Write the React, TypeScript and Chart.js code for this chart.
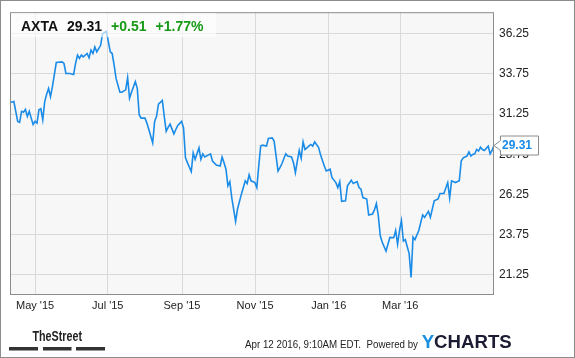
import { useEffect, useRef } from "react";
import { Chart, registerables } from "chart.js";

Chart.register(...registerables);

// ---- data ----
const symbol = "AXTA";
const lastPriceText = "29.31";
const changeText = "+0.51";
const changePctText = "+1.77%";
const timestampText = "Apr 12 2016, 9:10AM EDT.  Powered by";
const brandLeft = "TheStreet";

// trading-day index since mid-April 2015
const days = [
  0, 2, 4, 5, 6, 7, 8, 9, 10, 11, 12, 13, 14, 15, 16, 17, 18, 19, 20, 21, 22, 24, 27, 28, 29, 31, 33, 34, 35, 36,
  37, 38, 40, 41, 42, 43, 44, 45, 47, 48, 50, 52, 53, 54, 55, 57, 58, 60, 61, 62, 63, 65, 66, 67, 68, 70, 71, 72,
  74, 75, 76, 77, 79, 80, 81, 82, 83, 85, 86, 87, 89, 90, 91, 92, 94, 95, 96, 98, 99, 100, 101, 104, 105, 107,
  109, 110, 111, 112, 113, 114, 115, 117, 118, 120, 122, 123, 124, 125, 127, 128, 129, 130, 131, 133, 134, 136,
  137, 139, 140, 141, 143, 144, 146, 147, 148, 149, 150, 151, 152, 153, 155, 156, 157, 158, 160, 161, 163, 164,
  166, 167, 169, 170, 171, 172, 174, 175, 177, 178, 180, 181, 182, 183, 185, 186, 188, 189, 190, 191, 192, 193,
  195, 196, 197, 199, 200, 201, 202, 203, 204, 205, 207, 208, 209, 210, 212, 214, 215, 217, 218, 220, 222, 223,
  225, 227, 228, 229, 231, 233, 234, 235, 237, 238, 239, 240, 241, 242, 243, 244, 245, 246, 248, 249, 250, 251,
];

const prices = [
  31.97, 32.03, 30.8, 30.74, 31.42, 31.37, 31.54, 31.11, 31.42, 31.0, 30.6, 30.8, 30.69, 31.52, 31.58, 30.9, 32.03,
  32.48, 32.85, 32.34, 32.96, 34.46, 34.5, 34.4, 33.78, 33.78, 33.72, 34.4, 34.92, 34.71, 34.92, 34.81, 35.02,
  34.75, 35.23, 35.02, 35.43, 35.12, 35.53, 36.25, 36.4, 35.12, 35.02, 34.3, 33.47, 32.61, 32.61, 32.76, 33.52,
  32.24, 32.61, 33.27, 32.85, 31.21, 31.0, 31.0, 30.69, 30.29, 29.46, 30.8, 31.11, 31.87, 32.1, 31.11, 30.18,
  30.43, 30.63, 30.02, 30.29, 30.55, 30.8, 30.39, 28.53, 28.23, 27.67, 28.84, 28.44, 29.15, 28.44, 28.78, 28.58,
  28.78, 28.33, 28.08, 28.02, 28.58, 28.23, 27.82, 26.79, 27.05, 26.06, 24.58, 25.35, 26.27, 27.1, 26.93, 27.47,
  27.1, 26.99, 26.68, 28.02, 29.26, 29.32, 29.26, 29.73, 29.77, 29.56, 27.71, 27.92, 28.16, 28.78, 28.64, 28.58,
  28.23, 27.61, 28.33, 28.99, 28.5, 29.52, 29.05, 29.26, 29.36, 29.26, 29.52, 29.19, 28.74, 28.02, 27.71, 27.82,
  27.3, 26.99, 26.68, 27.05, 25.82, 25.86, 26.79, 27.14, 26.93, 27.05, 26.68, 26.58, 26.06, 25.97, 24.98, 25.04,
  25.29, 25.69, 24.94, 23.7, 23.29, 22.73, 23.15, 23.58, 23.56, 24.01, 23.15, 24.01, 24.63, 23.35, 23.44, 22.57,
  21.09, 23.6, 23.44, 24.01, 24.98, 24.83, 25.2, 24.83, 25.86, 25.97, 26.31, 26.31, 26.99, 26.03, 27.1, 26.99,
  27.1, 28.33, 28.53, 28.64, 28.9, 28.64, 28.74, 28.78, 29.05, 28.95, 29.19, 29.05, 28.99, 29.26, 28.78, 28.99,
  29.31,
];

const xTickDays = [13, 50.7, 89.2, 127.1, 165.3, 202.4];
const xTickLabels = ["May '15", "Jul '15", "Sep '15", "Nov '15", "Jan '16", "Mar '16"];
const yTickValues = [21.25, 23.75, 26.25, 28.75, 31.25, 33.75, 36.25];

const FONT = '"Liberation Sans", Arial, sans-serif';
const LINE_COLOR = "#1a8ce8";

function fitText(ctx: CanvasRenderingContext2D, text: string, x: number, y: number, width: number) {
  const w = ctx.measureText(text).width;
  ctx.save();
  ctx.translate(x, y);
  ctx.scale(width / w, 1);
  ctx.fillText(text, 0, 0);
  ctx.restore();
}

const decorPlugin = {
  id: "decor",
  beforeDraw(chart: any) {
    const { ctx, chartArea: a } = chart;
    ctx.save();
    ctx.fillStyle = "#ffffff";
    ctx.fillRect(0, 0, chart.width, chart.height);
    ctx.fillStyle = "#f7f7f7";
    ctx.fillRect(a.left, a.top, a.right - a.left, a.bottom - a.top);
    ctx.restore();
  },
  afterDraw(chart: any) {
    const { ctx, chartArea: a } = chart;
    const yScale = chart.scales.y;
    ctx.save();

    // plot border
    ctx.strokeStyle = "#8c8c8c";
    ctx.lineWidth = 1;
    ctx.strokeRect(a.left + 0.5, a.top + 0.5, a.right - a.left - 1, a.bottom - a.top);

    // header box
    ctx.fillStyle = "rgba(255,255,255,0.62)";
    ctx.fillRect(a.left + 1, a.top + 1, 205, 24);
    ctx.font = `bold 14px ${FONT}`;
    ctx.textBaseline = "alphabetic";
    ctx.textAlign = "left";
    let x = a.left + 11;
    const by = a.top + 18.5;
    const gap = 9;
    ctx.fillStyle = "#111111";
    ctx.fillText(symbol, x, by);
    x += ctx.measureText(symbol).width + gap;
    ctx.fillText(lastPriceText, x, by);
    x += ctx.measureText(lastPriceText).width + gap;
    ctx.fillStyle = "#179a17";
    ctx.fillText(changeText, x, by);
    x += ctx.measureText(changeText).width + gap;
    ctx.fillText(changePctText, x, by);

    // last price tag
    const last = prices[prices.length - 1];
    const py = Math.round(yScale.getPixelForValue(last)) + 0.5;
    const bx = a.right + 6;
    const bw = 38;
    const bh = 19;
    ctx.beginPath();
    ctx.moveTo(bx + 0.5, py - bh / 2);
    ctx.lineTo(bx + bw + 0.5, py - bh / 2);
    ctx.lineTo(bx + bw + 0.5, py + bh / 2);
    ctx.lineTo(bx + 0.5, py + bh / 2);
    ctx.lineTo(bx + 0.5, py + 5);
    ctx.lineTo(a.right, py);
    ctx.lineTo(bx + 0.5, py - 5);
    ctx.closePath();
    ctx.fillStyle = "#ffffff";
    ctx.fill();
    ctx.strokeStyle = "#8c8c8c";
    ctx.stroke();
    ctx.fillStyle = LINE_COLOR;
    ctx.font = `bold 12px ${FONT}`;
    ctx.textBaseline = "middle";
    ctx.fillText(last.toFixed(2), bx + 2, py + 0.5);

    // footer: TheStreet
    ctx.textBaseline = "alphabetic";
    ctx.fillStyle = "#222222";
    ctx.font = `bold 15px ${FONT}`;
    fitText(ctx, brandLeft, 32.5, 341, 49.5);
    ctx.fillStyle = "#333333";
    ctx.fillRect(9, 347, 29, 3.5);
    ctx.fillRect(43, 347, 28.5, 3.5);
    ctx.fillRect(76, 347, 29, 3.5);

    // footer: timestamp
    ctx.fillStyle = "#222222";
    ctx.font = `11px ${FONT}`;
    fitText(ctx, timestampText, 245, 348, 173);

    // footer: YCHARTS
    ctx.font = `bold 18px ${FONT}`;
    const yw = ctx.measureText("Y").width;
    const cw = ctx.measureText("CHARTS").width;
    const s = 90 / (yw + cw);
    ctx.save();
    ctx.translate(421.7, 348);
    ctx.scale(s, 1);
    ctx.fillStyle = "#1a8fe0";
    ctx.fillText("Y", 0, 0);
    ctx.fillStyle = "#1b1b33";
    ctx.fillText("CHARTS", yw, 0);
    ctx.restore();

    // outer frame
    ctx.strokeStyle = "#8c8c8c";
    ctx.strokeRect(0.5, 0.5, chart.width - 1, chart.height - 1);
    ctx.restore();
  },
};

export default function App() {
  const ref = useRef<HTMLCanvasElement | null>(null);

  useEffect(() => {
    if (!ref.current) return;
    const chart = new Chart(ref.current, {
      type: "line",
      data: {
        datasets: [
          {
            data: days.map((d, i) => ({ x: d, y: prices[i] })),
            borderColor: LINE_COLOR,
            borderWidth: 1.6,
            pointRadius: 0,
            tension: 0,
            fill: false,
          },
        ],
      },
      options: {
        animation: false,
        responsive: false,
        maintainAspectRatio: false,
        layout: { padding: { left: 10, top: 10, right: 0, bottom: 0 } },
        plugins: { legend: { display: false }, tooltip: { enabled: false } },
        scales: {
          x: {
            type: "linear",
            min: 0,
            max: 251,
            afterBuildTicks: (scale: any) => {
              scale.ticks = xTickDays.map((v) => ({ value: v }));
            },
            afterFit: (scale: any) => {
              scale.height = 64;
            },
            grid: { color: "#d9d9d9", drawTicks: false, lineWidth: 1 },
            border: { display: false },
            ticks: {
              autoSkip: false,
              maxRotation: 0,
              padding: 5,
              color: "#222222",
              font: { family: FONT, size: 11 },
              callback: (_v: any, i: number) => xTickLabels[i],
            },
          },
          y: {
            type: "linear",
            position: "right",
            min: 20.06,
            max: 37.59,
            afterBuildTicks: (scale: any) => {
              scale.ticks = yTickValues.map((v) => ({ value: v }));
            },
            afterFit: (scale: any) => {
              scale.width = 81;
            },
            grid: { color: "#d9d9d9", drawTicks: false, lineWidth: 1 },
            border: { display: false },
            ticks: {
              padding: 5,
              color: "#222222",
              font: { family: FONT, size: 12 },
              callback: (v: any) => Number(v).toFixed(2),
            },
          },
        },
      },
      plugins: [decorPlugin],
    });
    return () => chart.destroy();
  }, []);

  return (
    <div style={{ position: "fixed", left: 0, top: 0, width: 575, height: 358 }}>
      <canvas ref={ref} width={575} height={358} style={{ display: "block", width: 575, height: 358 }} />
    </div>
  );
}
